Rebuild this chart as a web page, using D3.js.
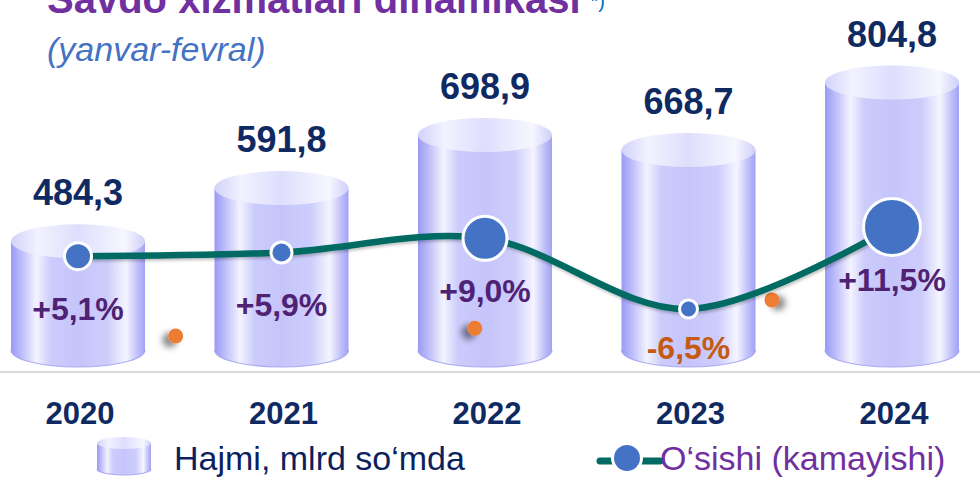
<!DOCTYPE html>
<html>
<head>
<meta charset="utf-8">
<script src="https://cdn.jsdelivr.net/npm/d3@7"></script>
<style>
  html, body { margin: 0; padding: 0; background: #ffffff; }
  svg { display: block; font-family: Arial, "Liberation Sans", sans-serif; }
</style>
</head>
<body>
<svg id="chart" width="980" height="479"></svg>
<script>
// ---------- data ----------
const categories = ["2020", "2021", "2022", "2023", "2024"];
const volume = [484.3, 591.8, 698.9, 668.7, 804.8];      // Hajmi, mlrd so'mda
const growth = [5.1, 5.9, 9.0, -6.5, 11.5];              // O'sishi (kamayishi), %
// stray orange points visible in the picture (category position, growth units)
const strayCat = [0.48, 1.95, 3.41];
const strayVal = [-12.4, -10.7, -4.5];
const titleText = "Savdo xizmatlari dinamikasi";
const titleNote = "*)";
const subtitleText = "(yanvar-fevral)";
const legendVolume = "Hajmi, mlrd so\u2018mda";
const legendGrowth = "O\u2018sishi (kamayishi)";

// ---------- styles ----------
const markerRadius = [15, 12, 23.5, 10.5, 30];
const navy = "#0f2a62";
const purple = "#7030a0";
const pctPurple = "#4f2274";
const pctOrange = "#c65a12";
const teal = "#006b63";
const markerBlue = "#4472c4";

const W = 980, H = 479;
const svg = d3.select("#chart");

const loc = d3.formatLocale({decimal: ",", thousands: " ", grouping: [3], currency: ["", ""], minus: "-"});
const fmtVal = loc.format(".1f");
const fmtPct = v => loc.format("+.1f")(v) + "%";

// scales
const x = d3.scaleLinear().domain([0, categories.length - 1]).range([78, 892]);
const yVol = d3.scaleLinear().domain([265, 810]).range([350, 80]);
const yG = d3.scaleLinear().domain([-10, 15]).range([325, 211]);

const cylRx = 67, cylRy = 17;
const baseY = yVol(265);

// ---------- defs ----------
const defs = svg.append("defs");
const bodyGrad = defs.append("linearGradient").attr("id", "cylBody").attr("x1", 0).attr("x2", 1).attr("y1", 0).attr("y2", 0);
[[0, "#9a9af6"], [0.07, "#b9b9fa"], [0.19, "#f3f3ff"], [0.3, "#cbcbfc"], [0.5, "#c5c5fb"], [0.72, "#cdcdfc"], [0.86, "#f5f5ff"], [0.95, "#bcbcf9"], [1, "#a2a2f5"]]
  .forEach(([o, c]) => bodyGrad.append("stop").attr("offset", o).attr("stop-color", c));
const topGrad = defs.append("linearGradient").attr("id", "cylTop").attr("x1", 0).attr("x2", 1).attr("y1", 0).attr("y2", 0);
[[0, "#d2d2fb"], [0.2, "#f2f2ff"], [0.5, "#dedefd"], [0.85, "#f7f7ff"], [1, "#cfcffa"]]
  .forEach(([o, c]) => topGrad.append("stop").attr("offset", o).attr("stop-color", c));

const sh1 = defs.append("filter").attr("id", "shL").attr("x", "-100%").attr("y", "-100%").attr("width", "300%").attr("height", "300%");
sh1.append("feDropShadow").attr("dx", -6).attr("dy", 4).attr("stdDeviation", 3).attr("flood-color", "#000").attr("flood-opacity", 0.45);
const sh2 = defs.append("filter").attr("id", "shR").attr("x", "-100%").attr("y", "-100%").attr("width", "300%").attr("height", "300%");
sh2.append("feDropShadow").attr("dx", 6).attr("dy", 3).attr("stdDeviation", 3).attr("flood-color", "#000").attr("flood-opacity", 0.45);
const sh3 = defs.append("filter").attr("id", "shLine").attr("x", "-10%").attr("y", "-50%").attr("width", "120%").attr("height", "200%");
sh3.append("feDropShadow").attr("dx", 1).attr("dy", 2).attr("stdDeviation", 1.5).attr("flood-color", "#000").attr("flood-opacity", 0.25);

function cylinder(g, cx, top, bottom, rx, ry) {
  g.append("path")
    .attr("d", `M${cx - rx},${top} L${cx - rx},${bottom} A${rx},${ry} 0 0 0 ${cx + rx},${bottom} L${cx + rx},${top} Z`)
    .attr("fill", "url(#cylBody)");
  g.append("path")
    .attr("d", `M${cx - rx},${bottom} A${rx},${ry} 0 0 0 ${cx + rx},${bottom}`)
    .attr("fill", "none").attr("stroke", "#9b9bf3").attr("stroke-width", 1.2).attr("opacity", 0.8);
  g.append("ellipse").attr("cx", cx).attr("cy", top).attr("rx", rx).attr("ry", ry)
    .attr("fill", "url(#cylTop)");
}

// ---------- title ----------
const title = svg.append("text").attr("x", 47).attr("y", 13)
  .attr("font-size", 40).attr("font-weight", "bold").attr("fill", purple);
title.append("tspan").text(titleText);
title.append("tspan").attr("dx", 10).attr("dy", -5).attr("font-size", 20).attr("font-weight", "normal").attr("fill", "#0070c0").text(titleNote);
svg.append("text").attr("x", 47).attr("y", 61).attr("font-size", 34).attr("font-style", "italic")
  .attr("fill", "#4472c4").text(subtitleText);

// ---------- axis line ----------
svg.append("line").attr("x1", 0).attr("x2", W).attr("y1", 372).attr("y2", 372)
  .attr("stroke", "#d9d9d9").attr("stroke-width", 2);

// ---------- cylinders ----------
const cyl = svg.append("g");
volume.forEach((v, i) => cylinder(cyl, x(i), yVol(v), baseY, cylRx, cylRy));

// value labels
svg.append("g").selectAll("text").data(volume).join("text")
  .attr("x", (d, i) => x(i))
  .attr("y", d => yVol(d) - cylRy - 19)
  .attr("text-anchor", "middle").attr("font-size", 36).attr("font-weight", "bold")
  .attr("fill", navy).text(d => fmtVal(d));

// category labels
svg.append("g").selectAll("text").data(categories).join("text")
  .attr("x", (d, i) => x(i) + 2)
  .attr("y", 424)
  .attr("text-anchor", "middle").attr("font-size", 31).attr("font-weight", "bold")
  .attr("fill", navy).text(d => d);

// percent labels
svg.append("g").selectAll("text").data(growth).join("text")
  .attr("x", (d, i) => x(i))
  .attr("y", d => Math.min(yG(d) + 64, 359))
  .attr("text-anchor", "middle").attr("font-size", 32).attr("font-weight", "bold")
  .attr("fill", d => d < 0 ? pctOrange : pctPurple).text(d => fmtPct(d));

// stray orange points
svg.append("g").selectAll("circle").data(strayCat).join("circle")
  .attr("cx", d => x(d))
  .attr("cy", (d, i) => yG(strayVal[i]))
  .attr("r", 7.5).attr("fill", "#ed7d31")
  .attr("filter", (d, i) => i === 2 ? "url(#shR)" : "url(#shL)");

// growth line
const line = d3.line().x((d, i) => x(i)).y(d => yG(d)).curve(d3.curveCatmullRom.alpha(0.5));
svg.append("path").datum(growth).attr("d", line)
  .attr("fill", "none").attr("stroke", teal).attr("stroke-width", 6.5).attr("stroke-linecap", "round")
  .attr("filter", "url(#shLine)");

svg.append("g").selectAll("circle").data(growth).join("circle")
  .attr("cx", (d, i) => x(i)).attr("cy", d => yG(d))
  .attr("r", (d, i) => markerRadius[i] - 1.5)
  .attr("fill", markerBlue).attr("stroke", "#fff").attr("stroke-width", 3);

// ---------- legend ----------
const lg = svg.append("g");
cylinder(lg, 124, 443, 469, 27, 6);
lg.append("text").attr("x", 174).attr("y", 470).attr("font-size", 34).attr("fill", "#0d1f5e").text(legendVolume);

lg.append("line").attr("x1", 600).attr("x2", 660).attr("y1", 461).attr("y2", 461)
  .attr("stroke", teal).attr("stroke-width", 7).attr("stroke-linecap", "round");
lg.append("circle").attr("cx", 627).attr("cy", 458).attr("r", 14.5)
  .attr("fill", markerBlue).attr("stroke", "#fff").attr("stroke-width", 3);
lg.append("text").attr("x", 660).attr("y", 470).attr("font-size", 34).attr("fill", purple).text(legendGrowth);
</script>
</body>
</html>
